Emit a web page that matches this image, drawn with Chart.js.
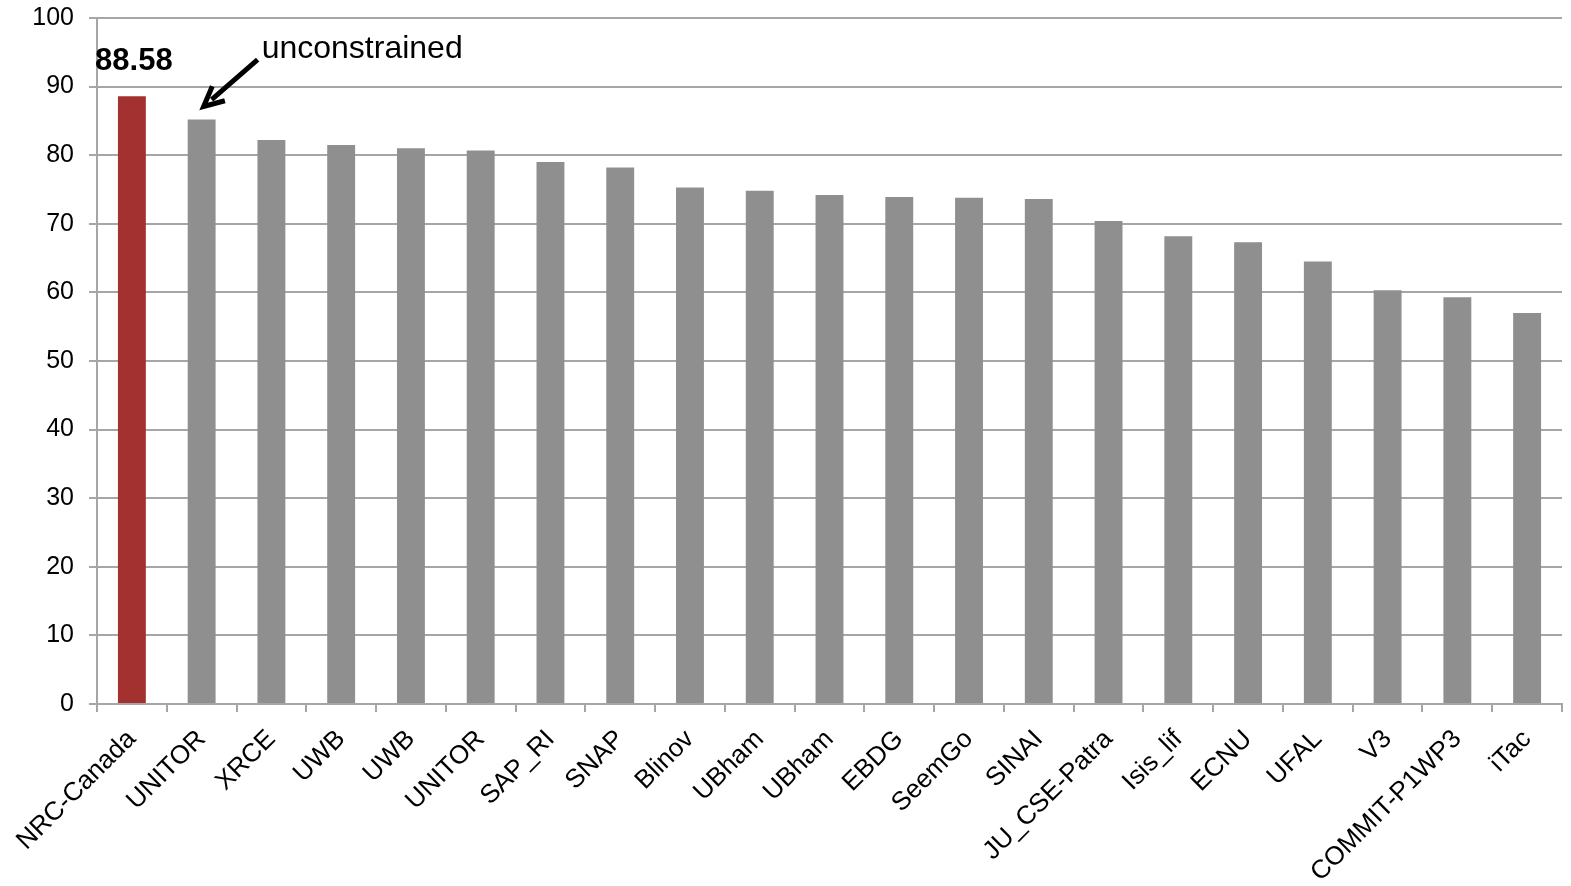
<!DOCTYPE html>
<html>
<head>
<meta charset="utf-8">
<style>
  html, body { margin: 0; padding: 0; background: #fff; }
  #wrap { width: 1571px; height: 886px; position: relative; }
</style>
<script src="https://cdn.jsdelivr.net/npm/chart.js@4/dist/chart.umd.min.js"></script>
</head>
<body>
<div id="wrap"><canvas id="chart" width="1571" height="886"></canvas></div>
<script>
/* Task scores per team; first bar (the winner) is highlighted in red. */

const teams = [
    'NRC-Canada', 'UNITOR', 'XRCE', 'UWB', 'UWB', 'UNITOR', 'SAP_RI', 'SNAP',
    'Blinov', 'UBham', 'UBham', 'EBDG', 'SeemGo', 'SINAI', 'JU_CSE-Patra',
    'Isis_lif', 'ECNU', 'UFAL', 'V3', 'COMMIT-P1WP3', 'iTac'
];
const scores = [
    88.58, 85.2, 82.2, 81.5, 81.0, 80.7, 79.0, 78.2,
    75.3, 74.8, 74.2, 73.9, 73.8, 73.6, 70.4,
    68.2, 67.3, 64.5, 60.3, 59.3, 57.0
];
const yTicks = [0, 10, 20, 30, 40, 50, 60, 70, 80, 90, 100];
const topLabel = '88.58';
const noteText = 'unconstrained';
const noteIndex = 1;

const GRID = '#a6a6a6';
const FONT = '"Liberation Sans", Arial, Helvetica, sans-serif';

const barColors = scores.map((_, i) => i === 0 ? '#a3312f' : '#8f8f8f');

// draws the bold value over the first bar and the arrow note
const annotations = {
    id: 'annotations',
    afterDatasetsDraw(chart) {
        const ctx = chart.ctx;
        const bars = chart.getDatasetMeta(0).data;
        ctx.save();

        const first = bars[0];
        ctx.fillStyle = '#000';
        ctx.font = `bold 31px ${FONT}`;
        ctx.textAlign = 'center';
        ctx.textBaseline = 'middle';
        ctx.fillText(topLabel, first.x + 2, first.y - 35);

        const b = bars[noteIndex];
        const tipX = b.x + 2, tipY = b.y - 13;
        const tailX = b.x + 56, tailY = b.y - 60;
        ctx.strokeStyle = '#000';
        ctx.lineWidth = 5;
        ctx.beginPath();
        ctx.moveTo(tailX, tailY);
        ctx.lineTo(tipX + 8, tipY - 7);
        ctx.stroke();
        // arrowhead
        const ang = Math.atan2(tipY - tailY, tipX - tailX);
        const len = 22, spread = 0.45;
        ctx.beginPath();
        ctx.moveTo(tipX - len * Math.cos(ang - spread), tipY - len * Math.sin(ang - spread));
        ctx.lineTo(tipX, tipY);
        ctx.lineTo(tipX - len * Math.cos(ang + spread), tipY - len * Math.sin(ang + spread));
        ctx.lineJoin = 'miter';
        ctx.stroke();

        ctx.font = `32px ${FONT}`;
        ctx.textAlign = 'left';
        ctx.fillText(noteText, b.x + 60, b.y - 70);
        ctx.restore();
    }
};

new Chart(document.getElementById('chart'), {
    type: 'bar',
    data: {
        labels: teams,
        datasets: [{
            data: scores,
            backgroundColor: barColors,
            borderWidth: 0,
            categoryPercentage: 1.0,
            barPercentage: 0.4
        }]
    },
    options: {
        responsive: false,
        animation: false,
        devicePixelRatio: 1,
        layout: { padding: { top: 18, right: 9, left: 0, bottom: 0 } },
        plugins: { legend: { display: false }, tooltip: { enabled: false } },
        scales: {
            x: {
                grid: { drawOnChartArea: false, drawTicks: true, tickLength: 8, color: GRID, lineWidth: 2, offset: true },
                border: { display: true, color: GRID, width: 2 },
                ticks: {
                    color: '#000', font: { family: FONT, size: 26 },
                    minRotation: 45, maxRotation: 45, autoSkip: false, padding: 12
                },
                afterFit(scale) { scale.height = 182; }
            },
            y: {
                min: 0, max: 100,
                afterBuildTicks(scale) { scale.ticks = yTicks.map(v => ({ value: v })); },
                grid: { color: GRID, lineWidth: 2, tickLength: 8 },
                border: { display: true, color: GRID, width: 2 },
                ticks: { color: '#000', font: { family: FONT, size: 25 }, padding: 15 },
                afterFit(scale) {
                    scale.width = 97;
                    scale.paddingTop = 0;
                    scale.paddingBottom = 0;
                }
            }
        }
    },
    plugins: [annotations]
});
</script>
</body>
</html>
